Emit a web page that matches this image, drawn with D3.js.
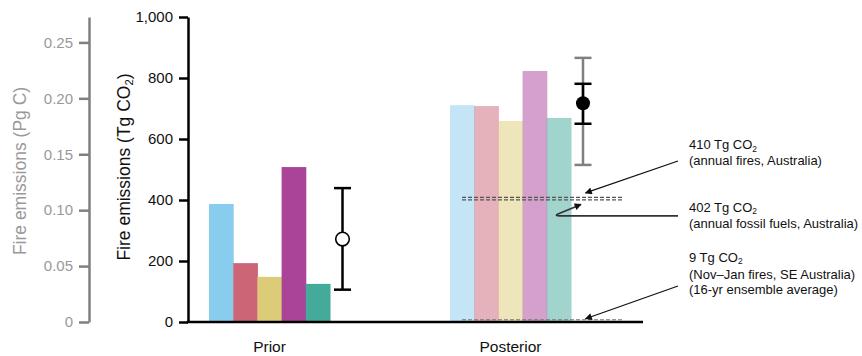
<!DOCTYPE html>
<html>
<head>
<meta charset="utf-8">
<script src="https://cdn.jsdelivr.net/npm/d3@7"></script>
<style>
  body { margin: 0; background: #fff; }
  svg text { font-family: "Liberation Sans", Arial, Helvetica, sans-serif; }
</style>
</head>
<body>
<script>
// values (Tg CO2)
var groups = ["Prior", "Posterior"];
var members = ["1", "2", "3", "4", "5"];
var priorValues = [387, 193, 148, 508, 125];
var posteriorValues = [711, 708, 659, 823, 669];
// ensemble mean with ranges
var priorMean = 272, priorLow = 106, priorHigh = 439;
var postMean = 717, postInnerLow = 650, postInnerHigh = 781, postOuterLow = 515, postOuterHigh = 866;
// reference levels
var refValues = [410, 402, 9];
var refLabels = [
  ["410 Tg CO|2", "(annual fires, Australia)"],
  ["402 Tg CO|2", "(annual fossil fuels, Australia)"],
  ["9 Tg CO|2", "(Nov\u2013Jan fires, SE Australia)", "(16-yr ensemble average)"]
];
var yTicks = [0, 200, 400, 600, 800, 1000];
var pgTicks = [0, 0.05, 0.10, 0.15, 0.20, 0.25];

var colors = ["#88CCEE", "#CC6677", "#DDCC77", "#AA4499", "#44AA99"];

var width = 862, height = 356;

var svg = d3.select("body").append("svg")
    .attr("width", width)
    .attr("height", height);

var defs = svg.append("defs");
defs.append("marker")
    .attr("id", "arrow")
    .attr("viewBox", "0 0 10 10")
    .attr("refX", 9).attr("refY", 5)
    .attr("markerWidth", 9).attr("markerHeight", 7)
    .attr("markerUnits", "userSpaceOnUse")
    .attr("orient", "auto")
    .append("path")
    .attr("d", "M0,0 L10,5 L0,10 Z")
    .attr("fill", "#111");

var y = d3.scaleLinear().domain([0, 1000]).range([322, 17]);
// Pg C axis: 1000 Tg CO2 = 0.2727 Pg C
var yPg = d3.scaleLinear().domain([0, 1000 * 12 / 44 / 1000]).range([322, 17]);

var x = d3.scaleBand()
    .domain(groups)
    .range([188, 643])
    .paddingInner(0.498)
    .paddingOuter(0.193)
    .align(0.226);

var xm = d3.scaleBand()
    .domain(members)
    .range([0, x.bandwidth()]);

// bars
var seriesData = [priorValues, posteriorValues];
groups.forEach(function(g, gi) {
    svg.append("g")
        .attr("transform", "translate(" + x(g) + ",0)")
        .selectAll("rect")
        .data(seriesData[gi])
        .enter().append("rect")
        .attr("x", function(d, i) { return xm(members[i]); })
        .attr("width", xm.bandwidth() + 0.5)
        .attr("y", function(d) { return y(d); })
        .attr("height", function(d) { return y(0) - y(d); })
        .attr("fill", function(d, i) { return colors[i]; })
        .attr("fill-opacity", gi == 0 ? 1 : 0.5);
});

// reference dashed lines
var dashX0 = x("Posterior") + 12, dashX1 = x("Posterior") + x.bandwidth() + 51;
svg.selectAll("line.ref")
    .data(refValues)
    .enter().append("line")
    .attr("class", "ref")
    .attr("x1", dashX0).attr("x2", dashX1)
    .attr("y1", function(d) { return y(d) + 0.5; })
    .attr("y2", function(d) { return y(d) + 0.5; })
    .attr("stroke", function(d, i) { return i == 2 ? "#777" : "#555"; })
    .attr("stroke-width", 1.2)
    .attr("stroke-dasharray", "4,2");

// error bars
var capW = 8.5;
function errBar(cx, lo, hi, color) {
    var g = svg.append("g").attr("stroke", color).attr("stroke-width", 2.5);
    g.append("line").attr("x1", cx).attr("x2", cx).attr("y1", y(lo)).attr("y2", y(hi));
    g.append("line").attr("x1", cx - capW).attr("x2", cx + capW).attr("y1", y(lo)).attr("y2", y(lo));
    g.append("line").attr("x1", cx - capW).attr("x2", cx + capW).attr("y1", y(hi)).attr("y2", y(hi));
}
var priorX = x("Prior") + x.bandwidth() + 12.5;
var postX = x("Posterior") + x.bandwidth() + 12;
errBar(priorX, priorLow, priorHigh, "#000");
svg.append("circle").attr("cx", priorX).attr("cy", y(priorMean)).attr("r", 6.8)
    .attr("fill", "#fff").attr("stroke", "#000").attr("stroke-width", 1.6);
errBar(postX, postOuterLow, postOuterHigh, "#808080");
errBar(postX, postInnerLow, postInnerHigh, "#000");
svg.append("circle").attr("cx", postX).attr("cy", y(postMean)).attr("r", 7)
    .attr("fill", "#000");

// axes
var yAxis = svg.append("g")
    .attr("transform", "translate(188,0)")
    .call(d3.axisLeft(y).tickValues(yTicks).tickFormat(d3.format(",")).tickSize(9).tickSizeOuter(0).tickPadding(6));
yAxis.select(".domain").attr("stroke-width", 2.5).attr("stroke", "#000");
yAxis.selectAll(".tick line").attr("stroke-width", 2.5).attr("stroke", "#000");
yAxis.selectAll(".tick text").attr("font-size", 15).attr("fill", "#111")
    .attr("font-family", "Liberation Sans, Arial, sans-serif");

var pgAxis = svg.append("g")
    .attr("transform", "translate(89,0)")
    .call(d3.axisLeft(yPg).tickValues(pgTicks)
        .tickFormat(function(d) { return d == 0 ? "0" : d3.format(".2f")(d); })
        .tickSize(10).tickSizeOuter(0).tickPadding(6));
pgAxis.select(".domain").attr("stroke-width", 2.5).attr("stroke", "#808080");
pgAxis.selectAll(".tick line").attr("stroke-width", 2.5).attr("stroke", "#808080");
pgAxis.selectAll(".tick text").attr("font-size", 15).attr("fill", "#999")
    .attr("font-family", "Liberation Sans, Arial, sans-serif");

// x axis line
svg.append("line")
    .attr("x1", x.range()[0] - 1.25).attr("x2", x.range()[1])
    .attr("y1", y(0)).attr("y2", y(0))
    .attr("stroke", "#000").attr("stroke-width", 2.5);

svg.selectAll("text.xlab")
    .data(groups)
    .enter().append("text")
    .attr("class", "xlab")
    .attr("x", function(d) { return x(d) + x.bandwidth() / 2; })
    .attr("y", 352)
    .attr("text-anchor", "middle")
    .attr("font-size", 15.5)
    .attr("fill", "#111")
    .text(function(d) { return d; });

// axis titles
function subText(sel, main, sub, tail) {
    sel.append("tspan").text(main);
    sel.append("tspan").attr("font-size", "0.65em").attr("dy", "0.3em").text(sub);
    if (tail) sel.append("tspan").attr("dy", "-0.2em").text(tail);
}
var t1 = svg.append("text")
    .attr("transform", "translate(130,167) rotate(-90)")
    .attr("text-anchor", "middle")
    .attr("font-size", 17.5)
    .attr("fill", "#111");
subText(t1, "Fire emissions (Tg CO", "2", ")");

svg.append("text")
    .attr("transform", "translate(26,171) rotate(-90)")
    .attr("text-anchor", "middle")
    .attr("font-size", 17.5)
    .attr("fill", "#999")
    .text("Fire emissions (Pg C)");

// annotations
var labelX = 689;
var labelY = [[149, 165], [211.5, 228], [261.5, 278.5, 294]];
refLabels.forEach(function(lines, k) {
    lines.forEach(function(line, j) {
        var t = svg.append("text")
            .attr("x", labelX)
            .attr("y", labelY[k][j])
            .attr("font-size", 13)
            .attr("fill", "#111");
        if (line.indexOf("|") >= 0) {
            var parts = line.split("|");
            subText(t, parts[0], parts[1]);
        } else {
            t.text(line);
        }
    });
});

var arrowX = postX + 2.5;
svg.append("path")
    .attr("d", "M678," + 161 + " L" + arrowX + "," + (y(refValues[0]) - 4))
    .attr("fill", "none").attr("stroke", "#111").attr("stroke-width", 1.3)
    .attr("marker-end", "url(#arrow)");
svg.append("path")
    .attr("d", "M678," + (y(refValues[1]) + 16.5) + " L560," + (y(refValues[1]) + 16.5) +
        " Q554," + (y(refValues[1]) + 16.5) + " 558," + (y(refValues[1]) + 14.5) +
        " L" + (postX - 2) + "," + (y(refValues[1]) + 5))
    .attr("fill", "none").attr("stroke", "#333").attr("stroke-width", 1.6)
    .attr("marker-end", "url(#arrow)");
svg.append("path")
    .attr("d", "M678," + 286 + " L" + arrowX + "," + (y(refValues[2]) - 0.5))
    .attr("fill", "none").attr("stroke", "#111").attr("stroke-width", 1.3)
    .attr("marker-end", "url(#arrow)");
</script>
</body>
</html>
